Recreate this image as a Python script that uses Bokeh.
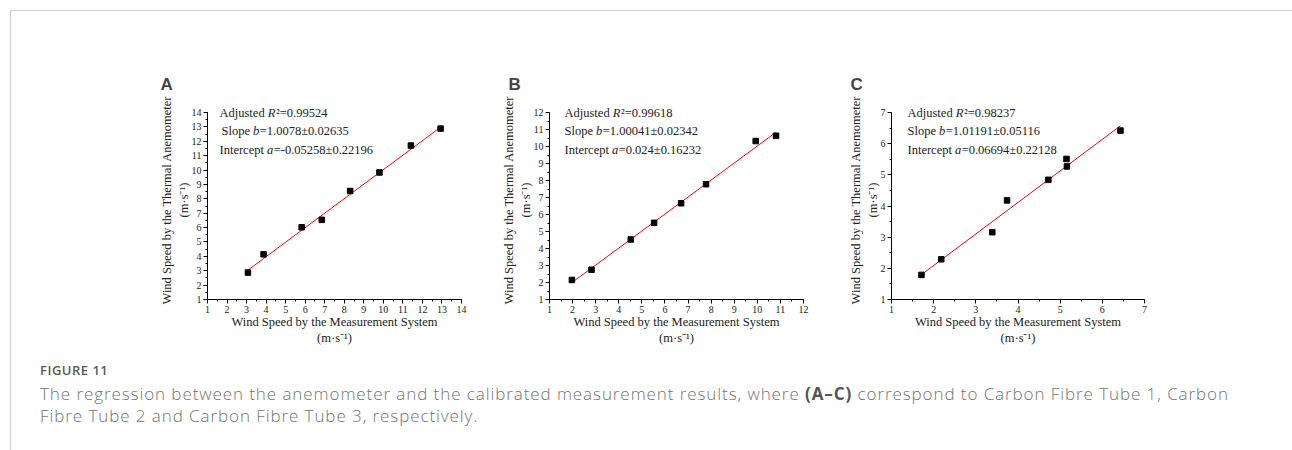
from bokeh.plotting import figure
from bokeh.layouts import column, row
from bokeh.models import Div, Label, SingleIntervalTicker, Range1d
from bokeh.embed import file_html
from bokeh.resources import INLINE

# ---------------- data ----------------
panels = ["A", "B", "C"]

a_x = [3.07, 3.87, 5.82, 6.85, 8.30, 9.80, 11.41, 12.93]
a_y = [2.87, 4.14, 6.02, 6.54, 8.54, 9.83, 11.70, 12.88]

b_x = [1.97, 2.82, 4.52, 5.53, 6.70, 7.78, 9.93, 10.81]
b_y = [2.15, 2.75, 4.53, 5.51, 6.66, 7.78, 10.32, 10.63]

c_x = [1.71, 2.18, 3.39, 3.74, 4.72, 5.15, 5.16, 6.43]
c_y = [1.79, 2.29, 3.16, 4.18, 4.84, 5.51, 5.27, 6.42]

slopes = [1.0078, 1.00041, 1.01191]
intercepts = [-0.05258, 0.024, 0.06694]
r2_text = ["0.99524", "0.99618", "0.98237"]
slope_text = ["1.0078\u00b10.02635", "1.00041\u00b10.02342", "1.01191\u00b10.05116"]
intercept_text = ["-0.05258\u00b10.22196", "0.024\u00b10.16232", "0.06694\u00b10.22128"]
axis_max = [14, 12, 7]
axis_min = [1, 1, 1]

x_label = "Wind Speed by the Measurement System\n(m\u00b7s\u207b\u00b9)"
y_label = "Wind Speed by the Thermal Anemometer\n(m\u00b7s\u207b\u00b9)"

caption_title = "FIGURE 11"
caption_line1 = ("The regression between the anemometer and the calibrated measurement results, where "
                 "<b style='color:#555;font-weight:700'>(A\u2013C)</b> correspond to Carbon Fibre Tube 1, Carbon")
caption_line2 = "Fibre Tube 2 and Carbon Fibre Tube 3, respectively."

SERIF = "Liberation Serif"
FS = 12.5  # annotation font size px
EXTRA = 12  # px of frame above the top tick, so the statistics text is not clipped
FH = 187


def make_panel(i, xs, ys, mbl, mbr, title_off, txt_dx, slope_dx):
    lo, hi = axis_min[i], axis_max[i]
    top = hi + EXTRA * (hi - lo) / FH
    p = figure(output_backend="svg", toolbar_location=None,
               frame_width=254 if i < 2 else 253, frame_height=FH + EXTRA,
               min_border_left=mbl, min_border_right=mbr,
               min_border_top=101 - EXTRA, min_border_bottom=52,
               x_range=Range1d(lo, hi), y_range=Range1d(lo, top))
    p.outline_line_color = None
    p.grid.visible = False
    p.background_fill_color = None
    p.border_fill_color = None

    for ax in (p.xaxis[0], p.yaxis[0]):
        ax.ticker = SingleIntervalTicker(interval=1, num_minor_ticks=2)
        ax.axis_line_color = "black"
        ax.major_tick_line_color = "black"
        ax.minor_tick_line_color = "black"
        ax.major_tick_out = 4
        ax.major_tick_in = 0
        ax.minor_tick_out = 2
        ax.minor_tick_in = 0
        ax.major_label_standoff = 2
        ax.major_label_text_font = SERIF
        ax.major_label_text_font_size = "10px"
        ax.major_label_text_color = "#222222"
        ax.axis_label_text_font = SERIF
        ax.axis_label_text_font_size = "12.5px"
        ax.axis_label_text_font_style = "normal"
        ax.axis_label_text_color = "#222222"
    p.xaxis.axis_label_standoff = -1
    p.yaxis.axis_label_standoff = -2
    p.yaxis.bounds = (lo, hi)
    p.xaxis.axis_label = x_label
    p.yaxis.axis_label = y_label
    p.yaxis.major_label_orientation = "horizontal"

    # regression line between the extreme measurement points
    x0, x1 = min(xs), max(xs)
    p.line([x0, x1], [intercepts[i] + slopes[i] * x0, intercepts[i] + slopes[i] * x1],
           line_color="#ff0000", line_width=1)
    p.scatter(xs, ys, marker="square", size=5.5, fill_color="black", line_color="black")

    # panel letter
    p.title.text = panels[i]
    p.title.text_font = "Liberation Sans"
    p.title.text_font_style = "bold"
    p.title.text_font_size = "17px"
    p.title.align = "left"
    p.title.offset = title_off
    p.title.standoff = 14

    # statistics text
    w_adj = 3.861 * FS
    w_slope = 2.528 * FS
    w_int = 3.804 * FS
    w_R = 0.611 * FS + 0.6
    w_b = 0.5 * FS + 0.4
    lines = [
        [("Adjusted ", "normal", 0), ("R", "italic", w_adj), ("\u00b2=" + r2_text[i], "normal", w_adj + w_R)],
        [("Slope ", "normal", 0), ("b", "italic", w_slope), ("=" + slope_text[i], "normal", w_slope + w_b)],
        [("Intercept ", "normal", 0), ("a", "italic", w_int), ("=" + intercept_text[i], "normal", w_int + w_b)],
    ]
    for k, pieces in enumerate(lines):
        extra = slope_dx if k == 1 else 0
        for text, style, off in pieces:
            p.add_layout(Label(x=lo, y=hi, x_offset=txt_dx + extra + off, y_offset=-18.5 * k,
                               text=text, text_font=SERIF, text_font_size=f"{FS}px",
                               text_font_style=style, text_baseline="middle", text_align="left",
                               text_color="#222222"))
    return p


pA = make_panel(0, a_x, a_y, mbl=196, mbr=31, title_off=-47, txt_dx=12, slope_dx=2)
pB = make_panel(1, b_x, b_y, mbl=57, mbr=31, title_off=-41, txt_dx=15, slope_dx=0)
pC = make_panel(2, c_x, c_y, mbl=57, mbr=40, title_off=-41, txt_dx=16, slope_dx=0)

caption = Div(text=(
    "<div style=\"font-family:'Open Sans', sans-serif; padding-left:29px; color:#737373;\">"
    f"<div style='font-size:13px; font-weight:600; color:#5a5a5a; line-height:18px; margin-top:10px; letter-spacing:0.5px;'>{caption_title}</div>"
    f"<div style='font-size:17px; font-weight:300; line-height:22px; margin-top:4px; white-space:nowrap; letter-spacing:0.92px;'>"
    f"{caption_line1}<br>{caption_line2}</div></div>"),
    width=1270, height=80, margin=0)

layout = column(row(pA, pB, pC), caption, width=1282, height=440, margin=(10, 0, 0, 10),
                styles={"border-top": "1px solid #cfcfcf", "border-left": "1px solid #cfcfcf"})

open("out.html", "w").write(file_html(layout, INLINE))
